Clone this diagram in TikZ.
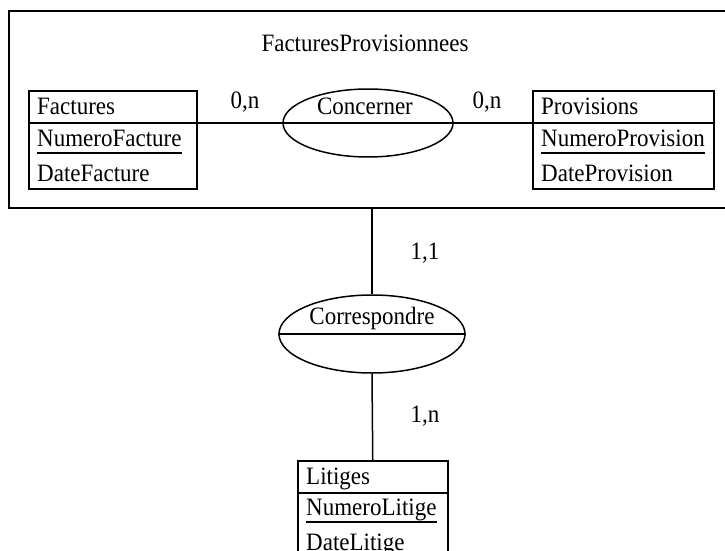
\documentclass[tikz,border=0pt]{standalone}
\usepackage{fontspec}
\setmainfont[FakeStretch=0.92]{Liberation Serif}
\usetikzlibrary{calc,shapes.geometric}
\newcommand{\erfont}{\fontsize{25}{29}\selectfont}
\tikzset{
  erline/.style={black, line width=1.5pt},
  entity/.style={draw, line width=1.5pt, inner sep=0pt, anchor=north west, minimum width=#1, minimum height=98pt},
  relation/.style={draw, ellipse, line width=1.5pt, inner sep=0pt},
  attr/.style={anchor=base west, inner sep=0pt, font=\erfont},
  card/.style={anchor=base, inner sep=0pt, font=\erfont}
}

\begin{document}
\begin{tikzpicture}[x=1pt,y=-1pt]
  \useasboundingbox (0,0) rectangle (725,551);
  \clip (0,0) rectangle (725,551);
  % aggregate
  \node[draw, line width=2pt, inner sep=0pt, anchor=north west, minimum width=740pt, minimum height=197pt] (groupbox) at (8,10) {};
  \node[card] (grouptitle) at (365,52) {FacturesProvisionnees};
  % entities
  \node[entity=168pt] (factures) at (28,90) {};
  \node[attr] (facturesname) at (37,114) {Factures};
  \node[attr] (facturesid) at (37,146) {NumeroFacture};
  \node[attr] (facturesdate) at (37,181) {DateFacture};
  \node[entity=181pt] (provisions) at (532,90) {};
  \node[attr] (provisionsname) at (541,114) {Provisions};
  \node[attr] (provisionsid) at (541,146) {NumeroProvision};
  \node[attr] (provisionsdate) at (541,181) {DateProvision};
  \node[entity=150pt, minimum height=120pt] (litiges) at (297,460) {};
  \node[attr] (litigesname) at (306,484) {Litiges};
  \node[attr] (litigesid) at (306,515) {NumeroLitige};
  \node[attr] (litigesdate) at (306,550) {DateLitige};
  \foreach \e in {factures,provisions,litiges}{
    \draw[erline] ($(\e.north west)+(0,33)$) -- ($(\e.north east)+(0,33)$);
  }
  \foreach \k in {facturesid,provisionsid,litigesid}{
    \draw[erline] ($(\k.base west)+(0,7)$) -- ($(\k.base east)+(0,7)$);
  }
  % associations
  \node[relation, minimum width=170pt, minimum height=68pt] (concerner) at (368,123) {};
  \node[card] (concernername) at (365,114) {Concerner};
  \node[relation, minimum width=186pt, minimum height=78pt] (correspondre) at (372,334) {};
  \node[card] (correspondrename) at (372,324) {Correspondre};
  % links
  \draw[erline] (factures.east |- concerner.center) -- (concerner.west) -- (concerner.east) -- (provisions.west |- concerner.center);
  \draw[erline] (groupbox.south -| correspondre.center) -- (correspondre.north);
  \draw[erline] (correspondre.west) -- (correspondre.east);
  \draw[erline] (correspondre.south) -- (litiges.north);
  % cardinalities
  \node[card] (cardfactures) at (245,108) {0,n};
  \node[card] (cardprovisions) at (487,108) {0,n};
  \node[card] (cardgroup) at (425,259) {1,1};
  \node[card] (cardlitiges) at (425,422) {1,n};
\end{tikzpicture}
\end{document}
